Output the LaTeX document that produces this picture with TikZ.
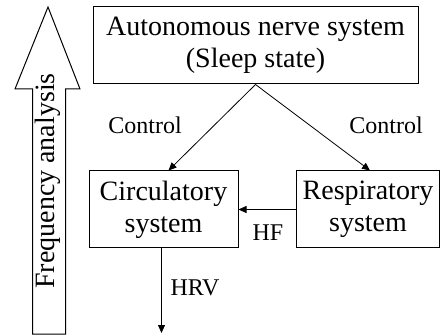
\documentclass[tikz,border=0pt]{standalone}
\usepackage{fontspec}
\setmainfont{Liberation Serif}
\usetikzlibrary{arrows.meta}
\begin{document}
\begin{tikzpicture}[x=1pt,y=-1pt,
  boxnode/.style={draw=black,line width=1pt,inner sep=0pt,align=center,
    font=\fontsize{28}{32}\selectfont},
  lbl/.style={inner sep=0pt,font=\fontsize{24}{28}\selectfont},
  conn/.style={draw=black,line width=0.8pt,-{Triangle[length=8pt,width=7pt]}}]
\useasboundingbox (0,0) rectangle (441,336);
% big frequency-analysis arrow
\draw[line width=1pt,line join=miter] (32.5,334) -- (32.5,89) -- (15,89) -- (48,7) -- (80,89) -- (65.5,89) -- (65.5,334) -- cycle;
\node[rotate=90,inner sep=0pt,font=\fontsize{28}{32}\selectfont] (fa) at (48,181) {Frequency analysis};
% boxes
\node[boxnode,minimum width=325pt,minimum height=77pt] (top) at (255.5,45.5) {Autonomous nerve system\\(Sleep state)};
\node[boxnode,minimum width=149pt,minimum height=77pt] (circ) at (163.5,209.5) {Circulatory\\system};
\node[boxnode,minimum width=143pt,minimum height=77pt] (resp) at (368,209.5) {Respiratory\\system};
% connectors
\draw[conn] (top.south) -- ([xshift=5pt]circ.north);
\draw[conn] (top.south) -- ([xshift=2pt]resp.north);
\draw[conn] (resp.west) -- (circ.east);
\coordinate (hrvend) at (161.5,333);
\draw[conn] ([xshift=-2pt]circ.south) -- (hrvend);
% labels
\node[lbl] (c1) at (145,125) {Control};
\node[lbl] (c2) at (386,125) {Control};
\node[lbl] (hf) at (268,233) {HF};
\node[lbl] (hrv) at (195,288) {HRV};
\end{tikzpicture}
\end{document}
